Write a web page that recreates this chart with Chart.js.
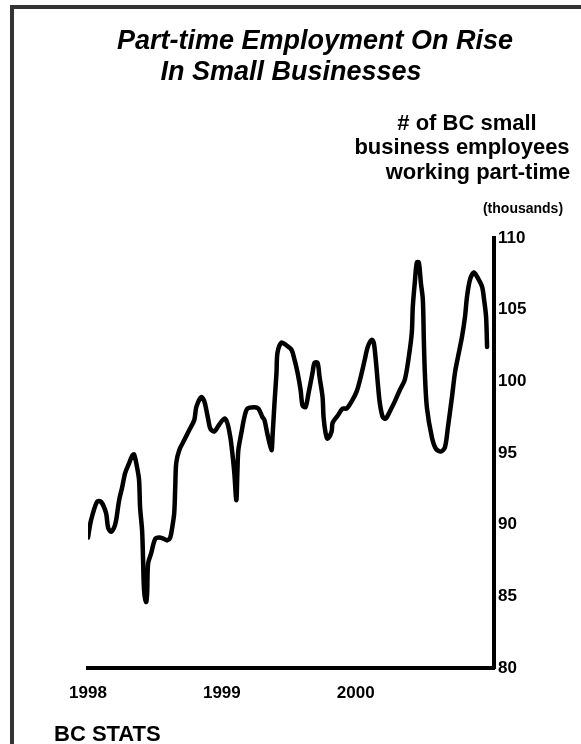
<!DOCTYPE html>
<html>
<head>
<meta charset="utf-8">
<script src="https://cdn.jsdelivr.net/npm/chart.js@4.4.1/dist/chart.umd.min.js"></script>
<style>
  html, body { margin: 0; padding: 0; background: #fff; }
  #wrap { position: relative; width: 581px; height: 744px; }
</style>
</head>
<body>
<div id="wrap"><canvas id="ptChart" width="581" height="744"></canvas></div>
<script>
// month offsets from Jan 1998, and part-time employees (thousands)
const months = [
  0, 0.27, 0.81, 1.17, 1.62, 1.8, 2.07, 2.34, 2.52, 2.79, 3.06, 3.33, 3.69, 3.96, 4.13,
  4.4, 4.58, 4.67, 4.85, 4.94, 5.03, 5.21, 5.3, 5.39, 5.66, 6.02, 6.38, 6.83, 7.1, 7.37,
  7.55, 7.73, 7.82, 7.91, 8.18, 8.63, 9.08, 9.53, 9.71, 10.16, 10.43, 10.61, 10.79, 10.97,
  11.33, 11.78, 12.22, 12.49, 12.76, 12.94, 13.12, 13.3, 13.39, 13.48, 13.75, 14.02, 14.29,
  14.92, 15.28, 15.64, 15.82, 16.09, 16.45, 16.54, 16.72, 16.9, 16.99, 17.35, 17.8, 18.25,
  18.52, 18.79, 19.06, 19.24, 19.51, 19.78, 20.13, 20.31, 20.58, 20.76, 21.03, 21.12, 21.3,
  21.48, 21.84, 21.93, 22.38, 22.83, 23.19, 23.64, 24.09, 24.45, 24.81, 25.08, 25.44, 25.62,
  25.8, 25.98, 26.16, 26.43, 26.7, 27.06, 27.51, 27.96, 28.4, 28.76, 29.03, 29.12, 29.3,
  29.48, 29.66, 29.84, 30.02, 30.11, 30.2, 30.38, 30.83, 31.19, 31.64, 32.0, 32.27, 32.63,
  32.9, 33.17, 33.53, 33.8, 33.98, 34.25, 34.61, 34.88, 35.33, 35.51, 35.69, 35.78
];
const employees = [
  89.1, 90.3, 91.6, 91.6, 90.8, 89.8, 89.5, 89.8, 90.3, 91.7, 92.6, 93.6, 94.3, 94.8, 94.9,
  94.0, 93.1, 91.2, 89.6, 87.5, 85.4, 84.6, 85.2, 87.3, 88.0, 89.0, 89.1, 89.0, 88.9, 89.1,
  89.8, 90.8, 92.6, 94.3, 95.2, 95.9, 96.6, 97.3, 98.2, 98.9, 98.6, 98.0, 97.3, 96.7,
  96.5, 97.0, 97.4, 97.1, 96.1, 95.0, 93.6, 91.7, 93.6, 95.2, 96.4, 97.5, 98.1,
  98.2, 98.1, 97.5, 97.3, 96.3, 95.2, 96.1, 98.5, 100.6, 102.0, 102.7, 102.5, 102.2,
  101.5, 100.6, 99.4, 98.3, 98.2, 99.2, 100.6, 101.3, 101.3, 100.3, 98.9, 97.5, 96.4,
  96.0, 96.5, 97.1, 97.6, 98.1, 98.1, 98.6, 99.3, 100.3, 101.5, 102.4, 102.9, 102.7,
  101.5, 99.9, 98.5, 97.5, 97.4, 97.9, 98.6, 99.4, 100.1, 101.7, 103.4, 105.2, 106.9,
  108.3, 108.3, 106.9, 105.7, 102.9, 100.6, 98.2, 96.1, 95.3, 95.1, 95.4, 96.8, 98.9,
  100.6, 101.7, 103.1, 104.5, 105.9, 107.1, 107.6, 107.3, 106.6, 105.7, 104.5, 102.4
];
const yearTicks = [0, 12, 24];
const yearLabels = ['1998', '1999', '2000'];
const titleLines = ['Part-time Employment On Rise', 'In Small Businesses'];
const unitLines = ['# of BC small', 'business employees', 'working part-time'];

const FONT = '"Liberation Sans", Arial, sans-serif';

const decorations = {
  id: 'decorations',
  beforeDraw(chart) {
    const c = chart.ctx;
    c.save();
    c.fillStyle = '#fff';
    c.fillRect(0, 0, chart.width, chart.height);
    // frame on the left and top edges
    c.fillStyle = '#333';
    c.fillRect(10, 5, 4, chart.height - 5);
    c.fillRect(10, 5, chart.width - 10, 4);
    c.restore();
  },
  afterDraw(chart) {
    const c = chart.ctx;
    c.save();
    c.fillStyle = '#000';
    c.textBaseline = 'alphabetic';
    c.textAlign = 'center';
    c.font = 'italic bold 27px ' + FONT;
    c.fillText(titleLines[0], 315, 49);
    c.fillText(titleLines[1], 291, 80);

    c.font = 'bold 22px ' + FONT;
    c.fillText(unitLines[0], 467, 130);
    c.fillText(unitLines[1], 462, 154);
    c.fillText(unitLines[2], 478, 179);

    c.font = 'bold 14px ' + FONT;
    c.fillText('(thousands)', 523, 213);

    c.textAlign = 'left';
    c.font = 'bold 22px ' + FONT;
    c.fillText('BC STATS', 54, 741);
    c.restore();
  }
};

new Chart(document.getElementById('ptChart'), {
  type: 'line',
  data: {
    datasets: [{
      data: months.map((m, i) => ({ x: m, y: employees[i] })),
      borderColor: '#000',
      borderWidth: 4.5,
      pointRadius: 0,
      tension: 0.3,
      borderCapStyle: 'round',
      borderJoinStyle: 'round',
      fill: false
    }]
  },
  options: {
    responsive: false,
    animation: false,
    layout: { padding: { left: 88, top: 238, right: 0, bottom: 0 } },
    plugins: { legend: { display: false }, tooltip: { enabled: false } },
    scales: {
      x: {
        type: 'linear',
        min: 0,
        max: 36.4,
        afterFit(scale) { scale.height = 76; },
        afterBuildTicks(scale) { scale.ticks = yearTicks.map(v => ({ value: v })); },
        grid: { display: false, drawTicks: false },
        border: { display: true, color: '#000', width: 4 },
        ticks: {
          padding: 15,
          maxRotation: 0,
          color: '#000',
          font: { family: FONT, size: 17, weight: 'bold' },
          callback: (v) => yearLabels[yearTicks.indexOf(v)]
        }
      },
      y: {
        position: 'right',
        min: 80,
        max: 110,
        afterFit(scale) { scale.width = 87; },
        grid: { display: false, drawTicks: false },
        border: { display: true, color: '#000', width: 4 },
        ticks: {
          stepSize: 5,
          padding: 4,
          color: '#000',
          font: { family: FONT, size: 17, weight: 'bold' }
        }
      }
    }
  },
  plugins: [decorations]
});
</script>
</body>
</html>
